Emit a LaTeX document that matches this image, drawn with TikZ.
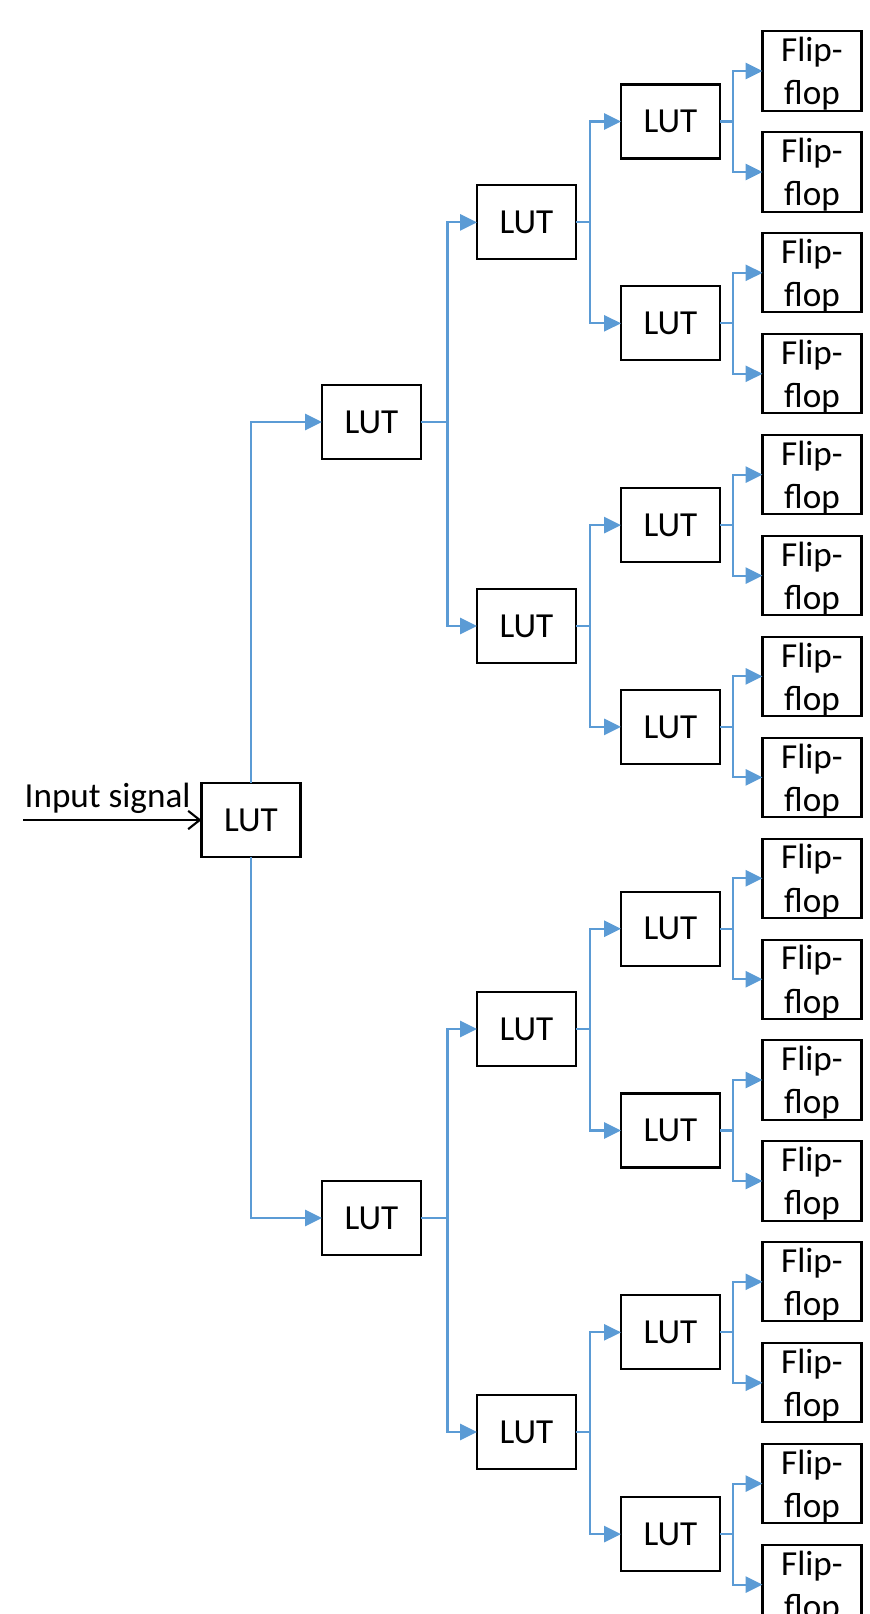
\documentclass[tikz,border=0pt]{standalone}
\usepackage{fontspec}
\setmainfont{Carlito}
\usetikzlibrary{arrows.meta}
\definecolor{wire}{HTML}{5B9BD5}
\begin{document}
\begin{tikzpicture}[x=0.01cm,y=-0.01cm,
  box/.style={draw=black,line width=0.6pt,minimum width=0.99cm,minimum height=0.74cm,inner sep=0pt,outer sep=0pt,font=\fontsize{10}{12}\selectfont},
  ffbox/.style={box,align=center,font=\fontsize{10}{12.3}\selectfont},
  conn/.style={draw=wire,line width=0.6pt,-{Triangle[length=4.8pt,width=4.6pt]}},
  inarrow/.style={draw=black,line width=0.6pt,-{Straight Barb[length=3.3pt,width=5.2pt]}},
  lbl/.style={inner sep=0pt,font=\fontsize{10}{12}\selectfont}
]
\useasboundingbox (0,0) rectangle (869,1614);
\clip (0,0) rectangle (869,1614);
% nodes
\node[box] (root) at (251,820) {LUT};
\node[box] (l1-0) at (371.5,422) {LUT};
\node[box] (l1-1) at (371.5,1218) {LUT};
\foreach \y [count=\i from 0] in {222.4,626,1029,1432}
  \node[box] (l2-\i) at (526.5,\y) {LUT};
\foreach \i in {0,...,7}{
  \node[box] (l3-\i) at (670.5,{121.5+201.8*\i}) {LUT};
  \pgfmathtruncatemacro\ja{2*\i}
  \pgfmathtruncatemacro\jb{2*\i+1}
  \node[ffbox] (ff-\ja) at (812,{121.5+201.8*\i-50.5}) {\rule{0pt}{8.6pt}Flip-\\flop};
  \node[ffbox] (ff-\jb) at (812,{121.5+201.8*\i+50.5}) {\rule{0pt}{8.6pt}Flip-\\flop};
}
\node[lbl,anchor=base west] (inlabel) at (24,807) {Input signal};
\coordinate (in) at (23,820);
% connectors
\draw[inarrow] (in) -- (root.west);
\draw[conn] (root.north) |- (l1-0.west);
\draw[conn] (root.south) |- (l1-1.west);
\foreach \a/\b in {0/0,0/1,1/2,1/3}
  \draw[conn] (l1-\a.east) -- ++(26.5,0) |- (l2-\b.west);
\foreach \a in {0,...,3}{
  \pgfmathtruncatemacro\ka{2*\a}
  \pgfmathtruncatemacro\kb{2*\a+1}
  \draw[conn] (l2-\a.east) -- ++(14,0) |- (l3-\ka.west);
  \draw[conn] (l2-\a.east) -- ++(14,0) |- (l3-\kb.west);
}
\foreach \a in {0,...,7}{
  \pgfmathtruncatemacro\ka{2*\a}
  \pgfmathtruncatemacro\kb{2*\a+1}
  \draw[conn] (l3-\a.east) -- ++(13,0) |- (ff-\ka.west);
  \draw[conn] (l3-\a.east) -- ++(13,0) |- (ff-\kb.west);
}
\end{tikzpicture}
\end{document}
